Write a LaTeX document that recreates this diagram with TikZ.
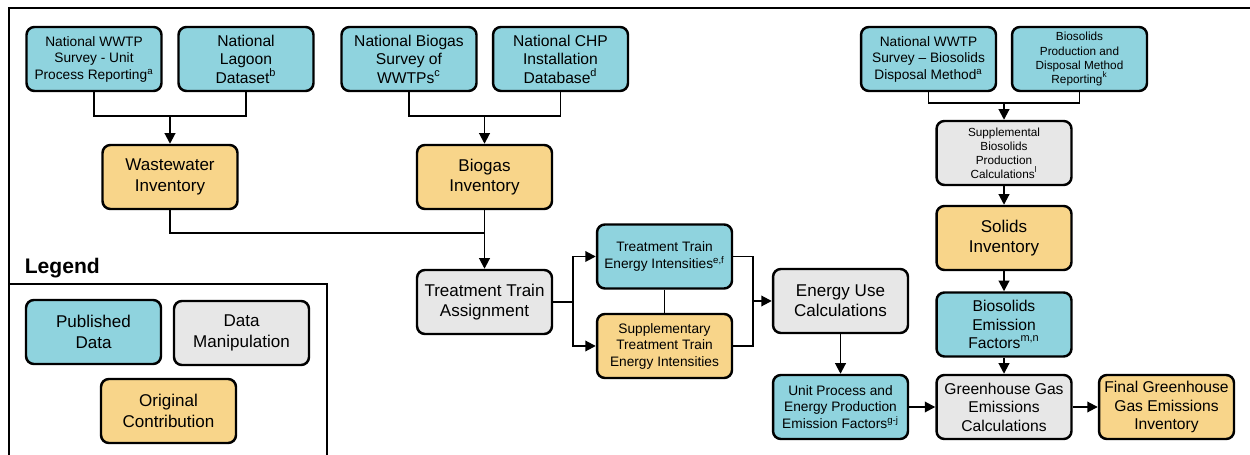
\documentclass[tikz,border=0pt]{standalone}
\usepackage{fontspec}
\setmainfont{Liberation Sans}
\usetikzlibrary{arrows.meta}
\definecolor{pubcol}{HTML}{8FD3DE}
\definecolor{mancol}{HTML}{E7E7E7}
\definecolor{orgcol}{HTML}{F8D58A}
\begin{document}
\begin{tikzpicture}[x=0.02cm, y=-0.02cm, >={Triangle[length=6pt,width=6pt]}, line width=1.1pt,
    box/.style={draw, line width=1.4pt, rounded corners=4.5pt, minimum width=2.7cm, minimum height=1.28cm, align=center, inner sep=1pt},
    pubbox/.style={box, fill=pubcol},
    manbox/.style={box, fill=mancol},
    orgbox/.style={box, fill=orgcol},
    fbig/.style={font=\fontsize{9.7}{11.6}\selectfont},
    fmid/.style={font=\fontsize{8.9}{10.5}\selectfont},
    fsml/.style={font=\fontsize{7.8}{9.4}\selectfont},
    ftny/.style={font=\fontsize{6.7}{8}\selectfont}]
    
    \useasboundingbox (0,0) rectangle (1250,455);
    
    % frame and legend
    \draw (9,455)--(9,8)--(1250,8);
    \draw (9,284)--(327,284)--(327,455);
    \node[anchor=west, font=\fontsize{12}{14}\selectfont\bfseries] (leg) at (18,268){Legend};
    \node[pubbox, fbig] (lpub) at (93.5,332){Published\\Data};
    \node[manbox, fbig] (lman) at (241.5,333){Data\\Manipulation};
    \node[orgbox, fbig] (lorg) at (168.5,411){Original\\Contribution};
    
    % published data
    \node[pubbox, fsml] (nwu) at (94,59){National WWTP\\Survey - Unit\\Process Reporting\textsuperscript{a}};
    \node[pubbox, fmid] (lag) at (246,59){National\\Lagoon\\Dataset\textsuperscript{b}};
    \node[pubbox, fmid] (bgs) at (409,59){National Biogas\\Survey of\\WWTPs\textsuperscript{c}};
    \node[pubbox, fmid] (chp) at (560.5,59){National CHP\\Installation\\Database\textsuperscript{d}};
    \node[pubbox, fsml] (nwb) at (928.5,59){National WWTP\\Survey -- Biosolids\\Disposal Method\textsuperscript{a}};
    \node[pubbox, ftny] (bpd) at (1079.5,59){Biosolids\\Production and\\Disposal Method\\Reporting\textsuperscript{k}};
    
    % inventories
    \node[orgbox, fbig] (ww) at (170,177){Wastewater\\Inventory};
    \node[orgbox, fbig] (bg) at (484.5,177){Biogas\\Inventory};
    \node[manbox, ftny] (sbp) at (1004,153){Supplemental\\Biosolids\\Production\\Calculations\textsuperscript{l}};
    \node[orgbox, fbig] (sol) at (1004,238){Solids\\Inventory};
    
    % energy
    \node[manbox, fbig] (tta) at (484.5,302){Treatment Train\\Assignment};
    \node[pubbox, fsml] (ttei) at (664.5,256.5){Treatment Train\\Energy Intensities\textsuperscript{e,f}};
    \node[orgbox, fsml] (stt) at (664.5,346){Supplementary\\Treatment Train\\Energy Intensities};
    \node[manbox, fbig] (euc) at (840.5,301){Energy Use\\Calculations};
    \node[pubbox, fsml] (upe) at (840.5,407){Unit Process and\\Energy Production\\Emission Factors\textsuperscript{g-j}};
    
    % emissions
    \node[pubbox, fmid] (bef) at (1004,324.5){Biosolids\\Emission\\Factors\textsuperscript{m,n}};
    \node[manbox, fmid] (ghg) at (1004,407){Greenhouse Gas\\Emissions\\Calculations};
    \node[orgbox, fmid] (fin) at (1166.5,407){Final Greenhouse\\Gas Emissions\\Inventory};
    
    \coordinate (j1) at (170,116);
    \coordinate (j2) at (484.5,116);
    \coordinate (j3) at (1004,103);
    \coordinate (j4) at (484.5,233);
    \coordinate (j5) at (573,302);
    \coordinate (j6) at (753,301);
    
    \draw (nwu.south) |- (j1) -| (lag.south);
    \draw [->] (j1)--(ww.north);
    \draw (bgs.south) |- (j2) -| (chp.south);
    \draw [->] (j2)--(bg.north);
    \draw (nwb.south) |- (j3) -| (bpd.south);
    \draw [->] (j3)--(sbp.north);
    \draw [->] (sbp)--(sol);
    
    \draw (ww.south) |- (j4);
    \draw [->] (bg.south)--(tta.north);
    \draw (tta.east)--(j5);
    \draw [->] (j5) |- (ttei.west);
    \draw [->] (j5) |- (stt.west);
    \draw (ttei)--(stt);
    \draw (ttei.east) -| (j6);
    \draw (stt.east) -| (j6);
    \draw [->] (j6)--(euc.west);
    \draw [->] (euc)--(upe);
    \draw [->] (upe)--(ghg);
    \draw [->] (sol)--(bef);
    \draw [->] (bef)--(ghg);
    \draw [->] (ghg)--(fin);
    
\end{tikzpicture}
\end{document}
